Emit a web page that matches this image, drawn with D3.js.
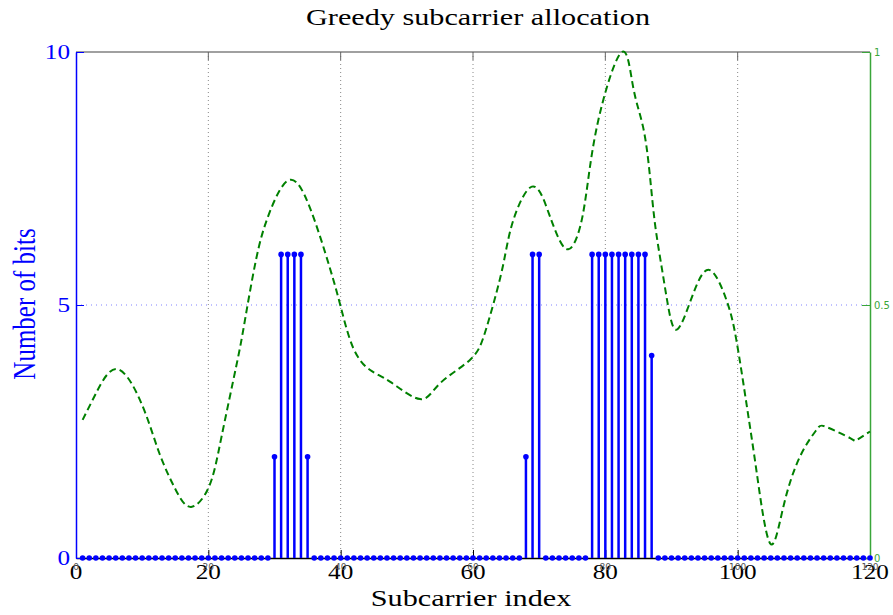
<!DOCTYPE html>
<html>
<head>
<meta charset="utf-8">
<script src="https://cdn.jsdelivr.net/npm/d3@7"></script>
<style>
  html, body { margin: 0; padding: 0; background: #fff; }
  svg { display: block; }
</style>
</head>
<body>
<svg id="chart" width="893" height="615"></svg>
<script>
// Subcarrier indices and allocated bits per subcarrier
const subcarriers = d3.range(1, 121);
const loadedIdx  = [30, 31, 32, 33, 34, 35, 68, 69, 70, 78, 79, 80, 81, 82, 83, 84, 85, 86, 87];
const loadedBits = [ 2,  6,  6,  6,  6,  2,  2,  6,  6,  6,  6,  6,  6,  6,  6,  6,  6,  6,  4];

// Normalised channel gain, sampled along the subcarrier axis
const gainIdx = [1, 3, 6.3, 10.1, 12.6, 15.1, 17.4, 20.1, 22, 24.2, 25.4, 27.2, 29.2, 32.2, 35.3, 38.3, 40,
  41.9, 44.4, 47.5, 52, 55, 59.5, 61.6, 63.1, 64.6, 66.1, 68.9, 71.1, 72.6, 74.4, 76.2, 77.4, 79.2,
  82.5, 84.2, 85.7, 86.7, 87.5, 88.5, 89.5, 90.9, 93.3, 95.8, 98.3, 99.8, 101.4, 102.9, 104.9, 106.9,
  109.4, 111.9, 113.4, 117, 118, 120];
const gainVal = [0.273, 0.325, 0.373, 0.299, 0.207, 0.134, 0.101, 0.141, 0.24, 0.378, 0.46, 0.589, 0.681, 0.747, 0.694, 0.576, 0.497,
  0.415, 0.372, 0.348, 0.314, 0.345, 0.391, 0.437, 0.503, 0.582, 0.668, 0.734, 0.694, 0.642, 0.61, 0.655, 0.747, 0.88,
  1.0, 0.931, 0.852, 0.76, 0.661, 0.576, 0.497, 0.452, 0.523, 0.569, 0.51, 0.431, 0.299, 0.167, 0.029, 0.101,
  0.2, 0.253, 0.259, 0.237, 0.233, 0.25];

const xTicks = [0, 20, 40, 60, 80, 100, 120];
const yTicks = [0, 5, 10];
const y2Ticks = [0, 0.5, 1];
const y2TickText = ["0", "0.5", "1"];

const bits = subcarriers.map(k => {
  const i = loadedIdx.indexOf(k);
  return { k, b: i >= 0 ? loadedBits[i] : 0 };
});
const gain = gainIdx.map((k, i) => ({ k, g: gainVal[i] }));

const L = 76, R = 870, T = 52, B = 558;
const x = d3.scaleLinear().domain([0, 120]).range([L, R]);
const y = d3.scaleLinear().domain([0, 10]).range([B, T]);
const y2 = d3.scaleLinear().domain([0, 1]).range([B, T]);

const svg = d3.select("#chart");
const SX = 1.26; // horizontal stretch of the serif lettering
const serif = "'Liberation Serif', 'DejaVu Serif', serif";

function label(sel, px, py, str, opts) {
  const o = Object.assign({ size: 20, fill: "#000", anchor: "middle", sx: SX, rot: 0, family: serif }, opts);
  return sel.append("text")
    .attr("transform", `translate(${px},${py}) scale(${o.sx},1)` + (o.rot ? ` rotate(${o.rot})` : ""))
    .attr("text-anchor", o.anchor)
    .attr("font-family", o.family)
    .attr("font-size", o.size)
    .attr("fill", o.fill)
    .text(str);
}

// grid lines
const grid = svg.append("g");
grid.selectAll("line.vg").data(xTicks.slice(1, -1)).join("line")
  .attr("x1", d => x(d)).attr("x2", d => x(d)).attr("y1", T).attr("y2", B)
  .attr("stroke", "#888").attr("stroke-width", 1).attr("stroke-dasharray", "1,3");
grid.selectAll("line.hg").data([5]).join("line")
  .attr("x1", L).attr("x2", R).attr("y1", d => y(d)).attr("y2", d => y(d))
  .attr("stroke", "#8080ff").attr("stroke-width", 1).attr("stroke-dasharray", "1,4");

// top frame with downward ticks
const frame = svg.append("g");
frame.append("line").attr("x1", L).attr("x2", R).attr("y1", T).attr("y2", T)
  .attr("stroke", "#808080").attr("stroke-width", 1.5);
frame.selectAll("line.tt").data(xTicks.slice(1, -1)).join("line")
  .attr("x1", d => x(d)).attr("x2", d => x(d)).attr("y1", T).attr("y2", T + 8)
  .attr("stroke", "#666").attr("stroke-width", 1);

// bottom axis
const xAxis = d3.axisBottom(x).tickValues(xTicks).tickSizeInner(-8).tickSizeOuter(0).tickFormat("");
const gx = svg.append("g").attr("transform", `translate(0,${B})`).call(xAxis);
gx.select(".domain").attr("stroke", "#000").attr("stroke-width", 1.5);
gx.selectAll(".tick line").attr("stroke", "#000");
xTicks.forEach(t => {
  label(svg, x(t), 579, String(t), { size: 20 });
  label(svg, x(t), 570, String(t), { size: 9, sx: 1, fill: "#555", family: "'DejaVu Sans', sans-serif" });
});

// left axis (bits)
const yAxis = d3.axisLeft(y).tickValues(yTicks).tickSizeInner(-8).tickSizeOuter(0).tickFormat("");
const gy = svg.append("g").attr("transform", `translate(${L},0)`).call(yAxis);
gy.select(".domain").attr("stroke", "#0000ff").attr("stroke-width", 1.5);
gy.selectAll(".tick line").attr("stroke", "#0000ff");
yTicks.forEach(t => label(svg, 70, y(t) + 7, String(t), { size: 20, fill: "#0000ff", anchor: "end" }));

// right axis (gain)
const y2Axis = d3.axisRight(y2).tickValues(y2Ticks).tickSizeInner(-8).tickSizeOuter(0).tickFormat("");
const gy2 = svg.append("g").attr("transform", `translate(${R},0)`).call(y2Axis);
gy2.select(".domain").attr("stroke", "#3aa63a").attr("stroke-width", 1.5);
gy2.selectAll(".tick line").attr("stroke", "#3aa63a");
y2Ticks.forEach((t, i) => label(svg, 874, y2(t) + 4, y2TickText[i],
  { size: 10, sx: 1, fill: "#3aa63a", anchor: "start", family: "'DejaVu Sans', sans-serif" }));

// channel gain, dashed
svg.append("path").datum(gain)
  .attr("d", d3.line().x(d => x(d.k)).y(d => y2(d.g)).curve(d3.curveNatural))
  .attr("fill", "none").attr("stroke", "#008000").attr("stroke-width", 2)
  .attr("stroke-dasharray", "7,4");

// bit allocation stems
const stems = svg.append("g");
stems.selectAll("line").data(bits.filter(d => d.b > 0)).join("line")
  .attr("x1", d => x(d.k)).attr("x2", d => x(d.k)).attr("y1", y(0)).attr("y2", d => y(d.b))
  .attr("stroke", "#0000ff").attr("stroke-width", 2.5);
stems.selectAll("circle").data(bits).join("circle")
  .attr("cx", d => x(d.k)).attr("cy", d => y(d.b)).attr("r", 2.8)
  .attr("fill", "#0000ff");

// titles
label(svg, 478, 25, "Greedy subcarrier allocation", { size: 24 });
label(svg, 471, 606, "Subcarrier index", { size: 24 });
label(svg, 35, 304, "Number of bits", { size: 25, fill: "#0000ff", rot: -90 });
</script>
</body>
</html>
